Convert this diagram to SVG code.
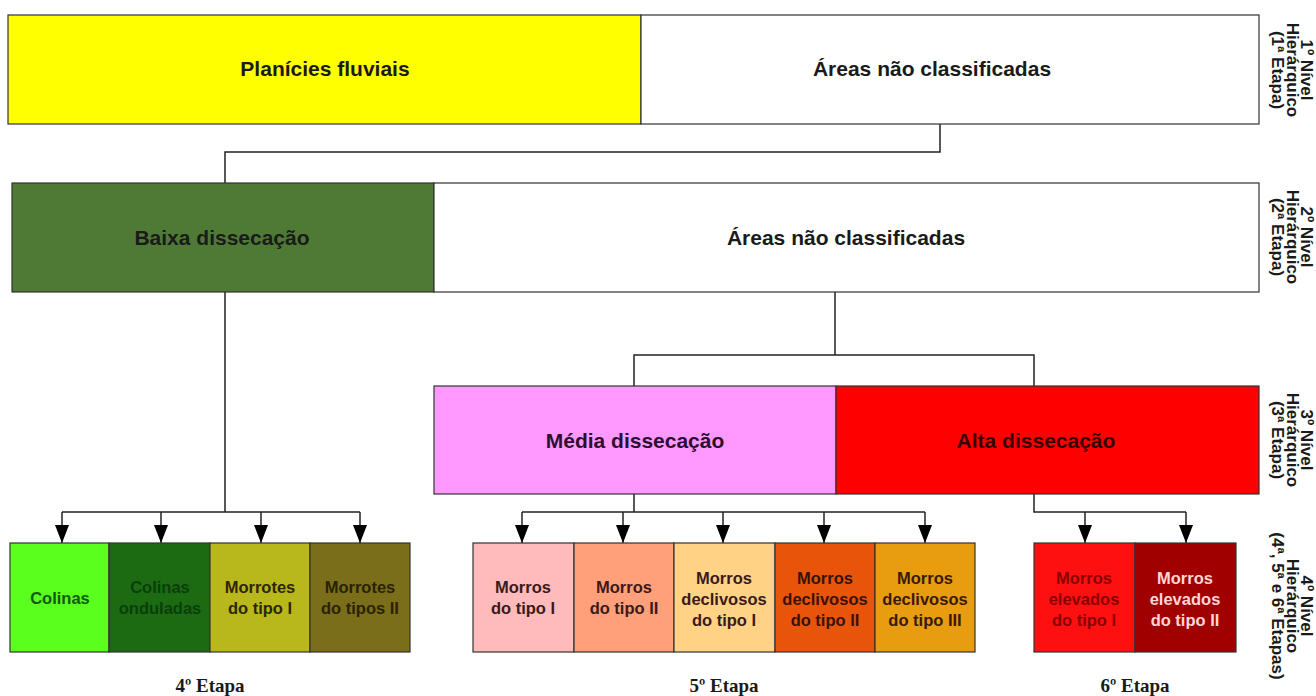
<svg xmlns="http://www.w3.org/2000/svg" width="1316" height="696" viewBox="0 0 1316 696">
<style>
  .box { stroke: #333; stroke-width: 1.2; }
  .lbl { font-family: "Liberation Sans", Arial, sans-serif; text-anchor: middle; }
  .big { font-size: 21px; font-weight: bold; fill: #1a1a1a; }
  .bigw { font-size: 21px; font-weight: bold; fill: #1a1a1a; }
  .sm { font-size: 16.5px; font-weight: bold; }
  .side { font-family: "Liberation Sans", Arial, sans-serif; font-size: 17px; font-weight: bold; fill: #1a1a1a; text-anchor: middle; }
  .etapa { font-family: "Liberation Serif", "Times New Roman", serif; font-size: 19px; font-weight: bold; fill: #1a1a1a; text-anchor: middle; }
  .conn { fill: none; stroke: #222; stroke-width: 1.5; }
</style>
<defs>
  <marker id="arr" viewBox="0 0 18 14" refX="18" refY="7" markerWidth="18" markerHeight="14" markerUnits="userSpaceOnUse" orient="auto">
    <path d="M0,0 L18,7 L0,14 z" fill="#000"/>
  </marker>
</defs>
<rect width="1316" height="696" fill="#fff"/>

<g id="connectors">
  <path class="conn" d="M940,124 V152 H225 V183"/>
  <path class="conn" d="M835,292 V355 H634 V386 M835,355 H1034 V386"/>
  <path class="conn" d="M225,292 V512 M62,512 H360"/>
  <path class="conn" d="M62,512 V543" marker-end="url(#arr)"/>
  <path class="conn" d="M161,512 V543" marker-end="url(#arr)"/>
  <path class="conn" d="M261,512 V543" marker-end="url(#arr)"/>
  <path class="conn" d="M360,512 V543" marker-end="url(#arr)"/>
  <path class="conn" d="M634,494 V512 M522,512 H925"/>
  <path class="conn" d="M522,512 V543" marker-end="url(#arr)"/>
  <path class="conn" d="M623,512 V543" marker-end="url(#arr)"/>
  <path class="conn" d="M723,512 V543" marker-end="url(#arr)"/>
  <path class="conn" d="M824,512 V543" marker-end="url(#arr)"/>
  <path class="conn" d="M925,512 V543" marker-end="url(#arr)"/>
  <path class="conn" d="M1034,494 V512 H1186"/>
  <path class="conn" d="M1085,512 V543" marker-end="url(#arr)"/>
  <path class="conn" d="M1186,512 V543" marker-end="url(#arr)"/>
</g>

<g id="n-planicies"><rect class="box" x="8" y="15" width="633" height="109" fill="#ffff00"/><text class="lbl big" x="325" y="76">Planícies fluviais</text></g>
<g id="n-areas1"><rect class="box" x="641" y="15" width="618" height="109" fill="#fff"/><text class="lbl bigw" x="932" y="76">Áreas não classificadas</text></g>

<g id="n-baixa"><rect class="box" x="12" y="183" width="422" height="109" fill="#4f7a35"/><text class="lbl big" x="222" y="245">Baixa dissecação</text></g>
<g id="n-areas2"><rect class="box" x="434" y="183" width="825" height="109" fill="#fff"/><text class="lbl bigw" x="846" y="245">Áreas não classificadas</text></g>

<g id="n-media"><rect class="box" x="434" y="386" width="402" height="108" fill="#ff99ff"/><text class="lbl big" x="635" y="448" style="fill:#2a1030">Média dissecação</text></g>
<g id="n-alta"><rect class="box" x="836" y="386" width="423" height="108" fill="#ff0000"/><text class="lbl big" x="1036" y="448" style="fill:#3a0000">Alta dissecação</text></g>

<g id="n-colinas"><rect class="box" x="10" y="543" width="99" height="109" fill="#5aff1e"/><text class="lbl sm" x="60" y="604" fill="#0f5a0f">Colinas</text></g>
<g id="n-colinas-ond"><rect class="box" x="109" y="543" width="101" height="109" fill="#1c6a12"/><text class="lbl sm" fill="#0a3e0a"><tspan x="160" y="593">Colinas</tspan><tspan x="160" y="614">onduladas</tspan></text></g>
<g id="n-morrotes1"><rect class="box" x="210" y="543" width="100" height="109" fill="#b8b81c"/><text class="lbl sm" fill="#2e2600"><tspan x="260" y="593">Morrotes</tspan><tspan x="260" y="614">do tipo I</tspan></text></g>
<g id="n-morrotes2"><rect class="box" x="310" y="543" width="100" height="109" fill="#7a6e1a"/><text class="lbl sm" fill="#2a2200"><tspan x="360" y="593">Morrotes</tspan><tspan x="360" y="614">do tipos  II</tspan></text></g>

<g id="n-morros1"><rect class="box" x="473" y="543" width="101" height="109" fill="#ffbbbb"/><text class="lbl sm" fill="#3a1a1a"><tspan x="523" y="593">Morros</tspan><tspan x="523" y="614">do tipo I</tspan></text></g>
<g id="n-morros2"><rect class="box" x="574" y="543" width="100" height="109" fill="#ffa07a"/><text class="lbl sm" fill="#3a1a1a"><tspan x="624" y="593">Morros</tspan><tspan x="624" y="614">do tipo II</tspan></text></g>
<g id="n-decl1"><rect class="box" x="674" y="543" width="101" height="109" fill="#ffd285"/><text class="lbl sm" fill="#3a1a1a"><tspan x="724" y="584">Morros</tspan><tspan x="724" y="605">declivosos</tspan><tspan x="724" y="626">do tipo I</tspan></text></g>
<g id="n-decl2"><rect class="box" x="775" y="543" width="100" height="109" fill="#e8540a"/><text class="lbl sm" fill="#3a1208"><tspan x="825" y="584">Morros</tspan><tspan x="825" y="605">declivosos</tspan><tspan x="825" y="626">do tipo II</tspan></text></g>
<g id="n-decl3"><rect class="box" x="875" y="543" width="100" height="109" fill="#e89c10"/><text class="lbl sm" fill="#3a1a08"><tspan x="925" y="584">Morros</tspan><tspan x="925" y="605">declivosos</tspan><tspan x="925" y="626">do tipo III</tspan></text></g>

<g id="n-elev1"><rect class="box" x="1034" y="543" width="101" height="109" fill="#ff1010"/><text class="lbl sm" fill="#8a0000"><tspan x="1084" y="584">Morros</tspan><tspan x="1084" y="605">elevados</tspan><tspan x="1084" y="626">do tipo I</tspan></text></g>
<g id="n-elev2"><rect class="box" x="1135" y="543" width="101" height="109" fill="#a00000"/><text class="lbl sm" fill="#ffd6d6"><tspan x="1185" y="584">Morros</tspan><tspan x="1185" y="605">elevados</tspan><tspan x="1185" y="626">do tipo II</tspan></text></g>

<g id="etapas">
  <text class="etapa" x="210" y="692">4º Etapa</text>
  <text class="etapa" x="724" y="692">5º Etapa</text>
  <text class="etapa" x="1135" y="692">6º Etapa</text>
</g>

<g id="niveis">
  <g transform="translate(1301,70) rotate(90)"><text class="side"><tspan x="0" y="0">1º Nível</tspan><tspan x="0" y="14.5">Hierárquico</tspan><tspan x="0" y="29">(1ª Etapa)</tspan></text></g>
  <g transform="translate(1301,237) rotate(90)"><text class="side"><tspan x="0" y="0">2º Nível</tspan><tspan x="0" y="14.5">Hierárquico</tspan><tspan x="0" y="29">(2ª Etapa)</tspan></text></g>
  <g transform="translate(1301,440) rotate(90)"><text class="side"><tspan x="0" y="0">3º Nível</tspan><tspan x="0" y="14.5">Hierárquico</tspan><tspan x="0" y="29">(3ª Etapa)</tspan></text></g>
  <g transform="translate(1301,606) rotate(90)"><text class="side"><tspan x="0" y="0">4º Nível</tspan><tspan x="0" y="14.5">Hierárquico</tspan><tspan x="0" y="29">(4ª, 5ª e 6ª Etapas)</tspan></text></g>
</g>
</svg>
